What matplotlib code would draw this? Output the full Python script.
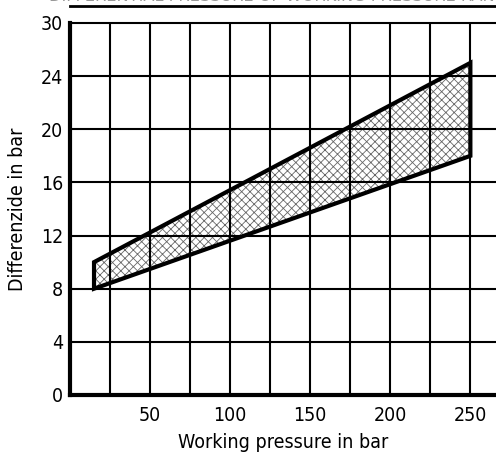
import matplotlib.pyplot as plt
from matplotlib.patches import Polygon
from matplotlib.lines import Line2D

# band corners: working pressure (bar) vs differential (bar)
band_x = [15, 15, 250, 250]
band_y = [8, 10, 25, 18]

x_ticks = [50, 100, 150, 200, 250]
x_grid = [25, 50, 75, 100, 125, 150, 175, 200, 225, 250]
y_ticks = [0, 4, 8, 12, 16, 20, 24, 28]
y_labels = ['0', '4', '8', '12', '16', '20', '24', '30']

plt.rcParams['font.family'] = ['DejaVu Sans']
plt.rcParams['font.stretch'] = 'condensed'
plt.rcParams['hatch.color'] = '#666666'
plt.rcParams['hatch.linewidth'] = 0.6

fig = plt.figure(figsize=(4.96, 4.53), dpi=100)
ax = fig.add_axes([70/496, 58/453, 1 - 70/496, 372/453])

ax.set_xlim(0, 266)
ax.set_ylim(0, 28)

for gx in x_grid:
    ax.axvline(gx, color='black', lw=1.5, zorder=3)
for gy in y_ticks[1:-1]:
    ax.axhline(gy, color='black', lw=1.5, zorder=3)

band = Polygon(list(zip(band_x, band_y)), closed=True, facecolor='none',
               edgecolor='#666666', hatch='xxxx', lw=0, zorder=2)
ax.add_patch(band)
outline = Polygon(list(zip(band_x, band_y)), closed=True, facecolor='none',
                  edgecolor='black', lw=3, zorder=4, joinstyle='miter')
ax.add_patch(outline)

ax.set_xticks(x_ticks)
ax.set_yticks(y_ticks)
ax.set_yticklabels(y_labels)
ax.tick_params(length=0, labelsize=14)
ax.tick_params(axis='y', pad=5)
ax.tick_params(axis='x', pad=8)

ax.spines['left'].set_linewidth(3)
ax.spines['bottom'].set_linewidth(3)
ax.spines['top'].set_linewidth(1.5)
ax.spines['right'].set_visible(False)
for s in ax.spines.values():
    s.set_zorder(5)

ax.set_xlabel('Working pressure in bar', fontsize=14, labelpad=6)
ax.set_ylabel('Differenzide in bar', fontsize=14, labelpad=10)

# title clipped at the top edge, with its underline
fig.text(0.57, 1 - 1/453, 'DIFFERENTIAL PRESSURE OF WORKING PRESSURE RANGE',
         ha='center', va='baseline', fontsize=13, color='#999999')
fig.add_artist(Line2D([70/496, 1], [1 - 6/453, 1 - 6/453], color='black', lw=2,
                      transform=fig.transFigure))

fig.savefig('out.png', dpi=100)
